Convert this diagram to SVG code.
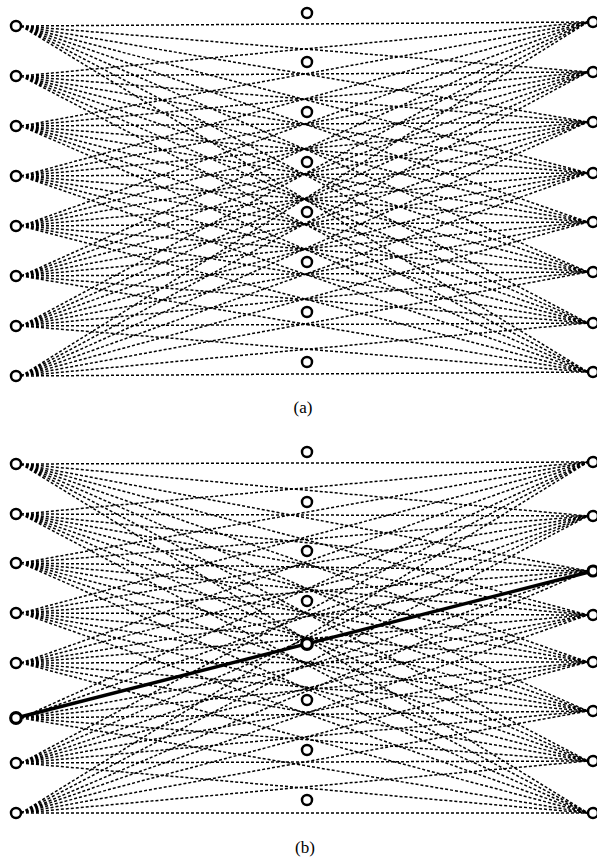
<svg xmlns="http://www.w3.org/2000/svg" width="597" height="860" viewBox="0 0 597 860">
<style>
.c{fill:#fff;stroke:#000;stroke-width:2.5}
.cb{fill:#fff;stroke:#000;stroke-width:3.2}
.d{fill:none;stroke:#000;stroke-width:1.5;stroke-dasharray:3 2}
.t{font-family:"Liberation Serif",serif;font-size:17px;fill:#000;text-anchor:middle}
</style>
<rect width="597" height="860" fill="#fff"/>
<g id="connectors">
<path class="d" d="M21 26L588 22M21 26L588 72M21 26L588 122M21 26L588 173M21 26L588 222M21 26L588 272M21 26L588 323M21 26L588 372"/>
<path class="d" d="M21 76L588 22M21 76L588 72M21 76L588 122M21 76L588 173M21 76L588 222M21 76L588 272M21 76L588 323M21 76L588 372"/>
<path class="d" d="M21 126L588 22M21 126L588 72M21 126L588 122M21 126L588 173M21 126L588 222M21 126L588 272M21 126L588 323M21 126L588 372"/>
<path class="d" d="M21 176L588 22M21 176L588 72M21 176L588 122M21 176L588 173M21 176L588 222M21 176L588 272M21 176L588 323M21 176L588 372"/>
<path class="d" d="M21 226L588 22M21 226L588 72M21 226L588 122M21 226L588 173M21 226L588 222M21 226L588 272M21 226L588 323M21 226L588 372"/>
<path class="d" d="M21 276L588 22M21 276L588 72M21 276L588 122M21 276L588 173M21 276L588 222M21 276L588 272M21 276L588 323M21 276L588 372"/>
<path class="d" d="M21 326L588 22M21 326L588 72M21 326L588 122M21 326L588 173M21 326L588 222M21 326L588 272M21 326L588 323M21 326L588 372"/>
<path class="d" d="M21 376L588 22M21 376L588 72M21 376L588 122M21 376L588 173M21 376L588 222M21 376L588 272M21 376L588 323M21 376L588 372"/>
<path class="d" d="M21 464L588 462M21 464L588 516M21 464L588 571M21 464L588 615M21 464L588 662M21 464L588 711M21 464L588 761M21 464L588 813"/>
<path class="d" d="M21 514L588 462M21 514L588 516M21 514L588 571M21 514L588 615M21 514L588 662M21 514L588 711M21 514L588 761M21 514L588 813"/>
<path class="d" d="M21 563L588 462M21 563L588 516M21 563L588 571M21 563L588 615M21 563L588 662M21 563L588 711M21 563L588 761M21 563L588 813"/>
<path class="d" d="M21 613L588 462M21 613L588 516M21 613L588 571M21 613L588 615M21 613L588 662M21 613L588 711M21 613L588 761M21 613L588 813"/>
<path class="d" d="M21 663L588 462M21 663L588 516M21 663L588 571M21 663L588 615M21 663L588 662M21 663L588 711M21 663L588 761M21 663L588 813"/>
<path class="d" d="M21 718L588 462M21 718L588 516M21 718L588 615M21 718L588 662M21 718L588 711M21 718L588 761M21 718L588 813"/>
<path class="d" d="M21 763L588 462M21 763L588 516M21 763L588 571M21 763L588 615M21 763L588 662M21 763L588 711M21 763L588 761M21 763L588 813"/>
<path class="d" d="M21 813L588 462M21 813L588 516M21 813L588 571M21 813L588 615M21 813L588 662M21 813L588 711M21 813L588 761M21 813L588 813"/>
<path d="M16 718L593 571" fill="none" stroke="#000" stroke-width="3.4"/>
</g>
<g id="a-left">
<circle class="c" cx="16" cy="26" r="5"/><circle class="c" cx="16" cy="76" r="5"/><circle class="c" cx="16" cy="126" r="5"/><circle class="c" cx="16" cy="176" r="5"/><circle class="c" cx="16" cy="226" r="5"/><circle class="c" cx="16" cy="276" r="5"/><circle class="c" cx="16" cy="326" r="5"/><circle class="c" cx="16" cy="376" r="5"/>
</g>
<g id="a-right">
<circle class="c" cx="593" cy="22" r="5"/><circle class="c" cx="593" cy="72" r="5"/><circle class="c" cx="593" cy="122" r="5"/><circle class="c" cx="593" cy="173" r="5"/><circle class="c" cx="593" cy="222" r="5"/><circle class="c" cx="593" cy="272" r="5"/><circle class="c" cx="593" cy="323" r="5"/><circle class="c" cx="593" cy="372" r="5"/>
</g>
<g id="a-middle">
<circle class="c" cx="307" cy="13" r="5"/><circle class="c" cx="307" cy="62" r="5"/><circle class="c" cx="307" cy="112" r="5"/><circle class="c" cx="307" cy="162" r="5"/><circle class="c" cx="307" cy="212" r="5"/><circle class="c" cx="307" cy="262" r="5"/><circle class="c" cx="307" cy="312" r="5"/><circle class="c" cx="307" cy="362" r="5"/>
</g>
<g id="b-left">
<circle class="c" cx="16" cy="464" r="5"/><circle class="c" cx="16" cy="514" r="5"/><circle class="c" cx="16" cy="563" r="5"/><circle class="c" cx="16" cy="613" r="5"/><circle class="c" cx="16" cy="663" r="5"/><circle class="cb" cx="16" cy="718" r="5.3"/><circle class="c" cx="16" cy="763" r="5"/><circle class="c" cx="16" cy="813" r="5"/>
</g>
<g id="b-right">
<circle class="c" cx="593" cy="462" r="5"/><circle class="c" cx="593" cy="516" r="5"/><circle class="cb" cx="593" cy="571" r="5"/><circle class="c" cx="593" cy="615" r="5"/><circle class="c" cx="593" cy="662" r="5"/><circle class="c" cx="593" cy="711" r="5"/><circle class="c" cx="593" cy="761" r="5"/><circle class="c" cx="593" cy="813" r="5"/>
</g>
<g id="b-middle">
<circle class="c" cx="307" cy="452" r="5"/><circle class="c" cx="307" cy="502" r="5"/><circle class="c" cx="307" cy="551" r="5"/><circle class="c" cx="307" cy="601" r="5"/><circle class="cb" cx="307" cy="644" r="5.3"/><circle class="c" cx="307" cy="700" r="5"/><circle class="c" cx="307" cy="750" r="5"/><circle class="c" cx="307" cy="800" r="5"/>
</g>
<g id="labels">
<text class="t" x="303" y="413">(a)</text>
<text class="t" x="305" y="853">(b)</text>
</g>
</svg>
